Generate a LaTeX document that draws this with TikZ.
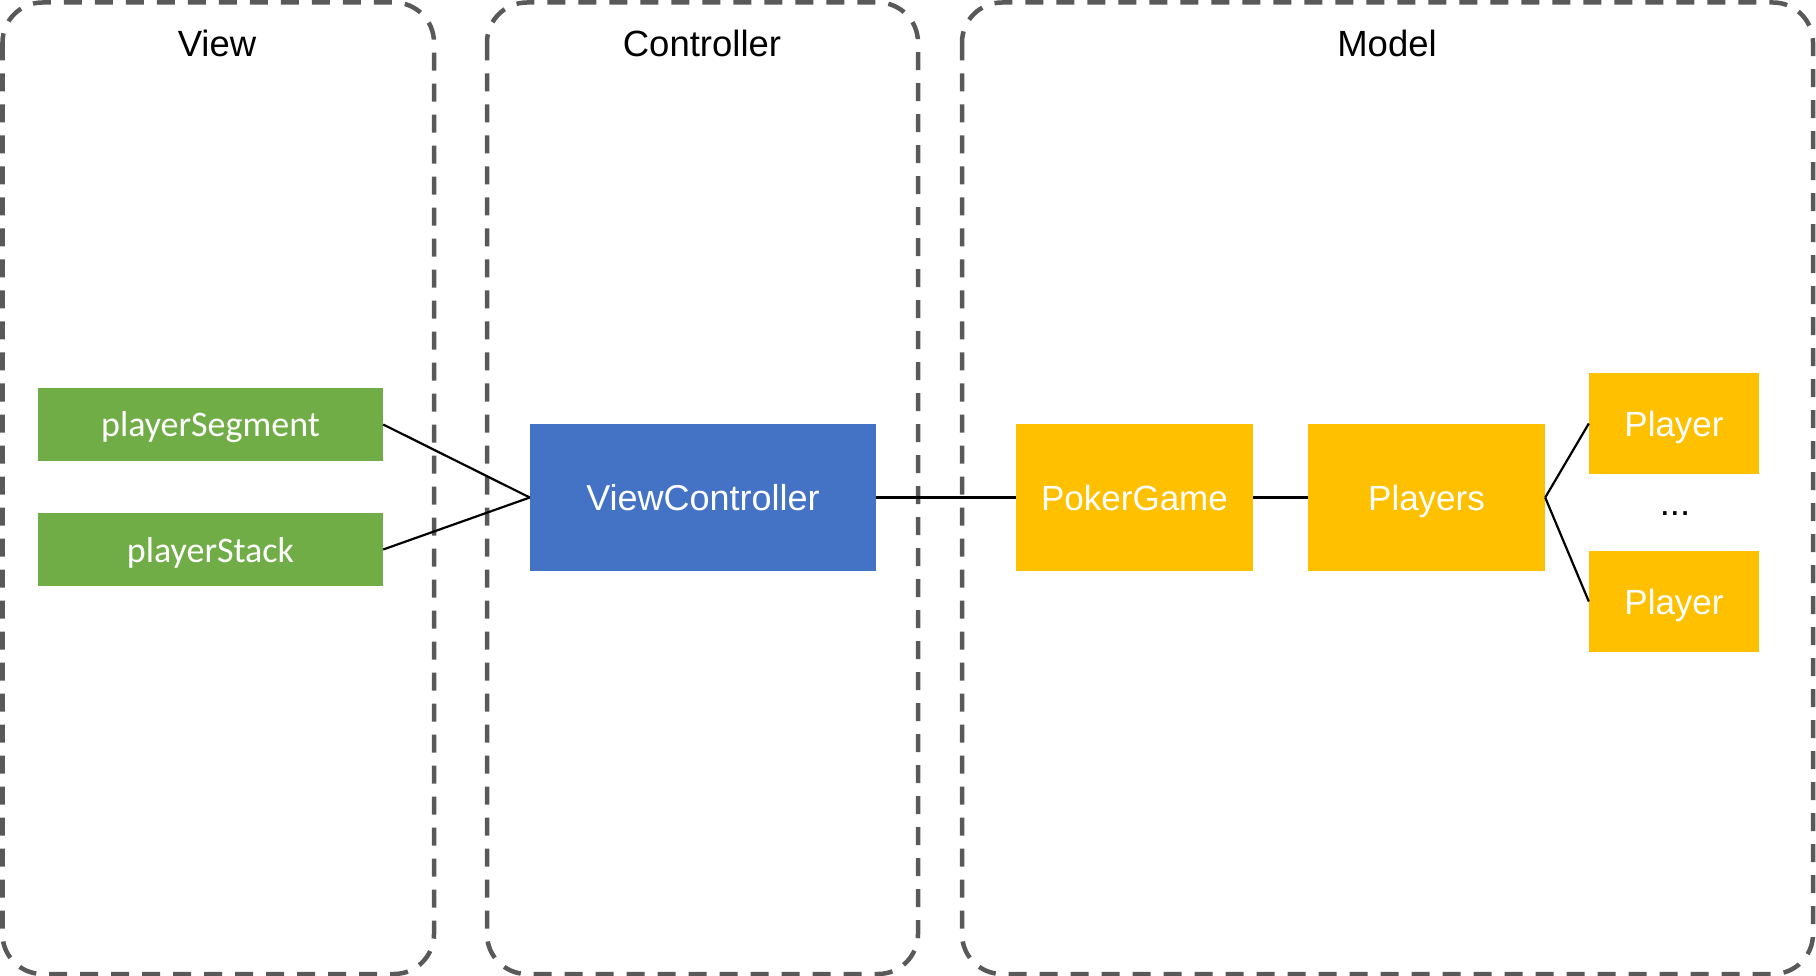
\documentclass[tikz,border=0pt]{standalone}
\usepackage{fontspec}
\setmainfont{Liberation Sans}
\newfontfamily\calibrifont{Carlito}
\definecolor{vgreen}{HTML}{70AD47}
\definecolor{cblue}{HTML}{4472C4}
\definecolor{myellow}{HTML}{FFC000}
\definecolor{panelgray}{HTML}{595959}
\begin{document}
\begin{tikzpicture}[x=1pt,y=-1pt,
  panel/.style={draw=panelgray, line width=4.5pt, dash pattern=on 18pt off 13pt, rounded corners=40pt},
  ptitle/.style={font=\fontsize{36.5}{40}\selectfont, text=black, inner sep=0pt},
  vbox/.style={fill=vgreen, text=white, inner sep=0pt, text depth=0pt, font=\calibrifont\fontsize{36}{40}\selectfont},
  cbox/.style={fill=cblue, text=white, inner sep=0pt, text depth=0pt, font=\fontsize{36}{40}\selectfont},
  mbox/.style={fill=myellow, text=white, inner sep=0pt, text depth=0pt, font=\fontsize{35}{40}\selectfont},
  link/.style={draw=black, line width=2.2pt}]
\useasboundingbox (0,0) rectangle (1816,976);
% panels
\draw[panel] (2.5,2.5) rectangle (434,974);
\draw[panel] (487,2.5) rectangle (918,974);
\draw[panel] (962,2.5) rectangle (1813,974);
\node[ptitle] (tview) at (217,43) {View};
\node[ptitle] (tctrl) at (702,43) {Controller};
\node[ptitle] (tmodel) at (1387,43) {Model};
% view
\node[vbox, minimum width=345pt, minimum height=73pt] (seg) at (210.5,424.5) {playerSegment};
\node[vbox, minimum width=345pt, minimum height=73pt] (stack) at (210.5,549.5) {playerStack};
% controller
\node[cbox, minimum width=346pt, minimum height=147pt] (vc) at (703,497.5) {ViewController};
% model
\node[mbox, minimum width=237pt, minimum height=147pt] (pg) at (1134.5,497.5) {PokerGame};
\node[mbox, minimum width=237pt, minimum height=147pt] (ps) at (1426.5,497.5) {Players};
\node[mbox, minimum width=170pt, minimum height=101pt] (p1) at (1674,423.5) {Player};
\node[mbox, minimum width=170pt, minimum height=101pt] (p2) at (1674,601.5) {Player};
\node[ptitle] (dots) at (1675,514) {...};
% links
\draw[link] (seg.east) -- (vc.west);
\draw[link] (stack.east) -- (vc.west);
\draw[link] (vc.east) -- (pg.west);
\draw[link] (pg.east) -- (ps.west);
\draw[link] (ps.east) -- (p1.west);
\draw[link] (ps.east) -- (p2.west);
\end{tikzpicture}
\end{document}
